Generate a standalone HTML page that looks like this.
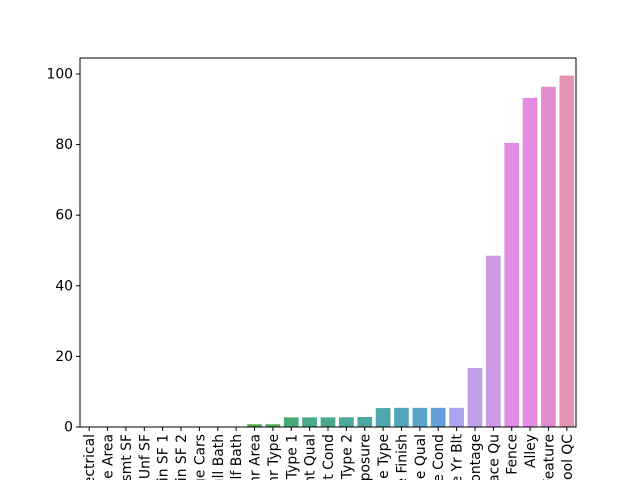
<!DOCTYPE html>
<html><head><meta charset="utf-8"><style>
html,body{margin:0;background:#fff;width:640px;height:480px;overflow:hidden;}
svg{display:block;font-family:"DejaVu Sans","Liberation Sans",sans-serif;overflow:hidden;}
</style></head><body>
<svg id="chart" width="640" height="480">
<rect x="0" y="0" width="640" height="480" fill="#fff"/>
<g id="bars"></g>
<g id="yaxis"></g>
<g id="xaxis"></g>
<rect x="80" y="58" width="496" height="369" fill="none" stroke="#000" stroke-width="1"/>
</svg>
<script>
const categories=["Electrical","Garage Area","Total Bsmt SF","Bsmt Unf SF","BsmtFin SF 1","BsmtFin SF 2","Garage Cars","Bsmt Full Bath","Bsmt Half Bath","Mas Vnr Area","Mas Vnr Type","BsmtFin Type 1","Bsmt Qual","Bsmt Cond","BsmtFin Type 2","Bsmt Exposure","Garage Type","Garage Finish","Garage Qual","Garage Cond","Garage Yr Blt","Lot Frontage","Fireplace Qu","Fence","Alley","Misc Feature","Pool QC"];
const values=[0.03,0.03,0.03,0.03,0.03,0.03,0.03,0.07,0.07,0.78,0.78,2.73,2.73,2.73,2.76,2.83,5.36,5.43,5.43,5.43,5.43,16.72,48.53,80.48,93.24,96.38,99.56];
const yTicks=[0,20,40,60,80,100];
const colors=["#e1857f","#dd8a6a","#d3904f","#c3973f","#b19c3d","#a0a13f","#8ea43f","#7aa73f","#63a944","#5ca84c","#52a95c","#47aa7a","#48aa87","#49aa91","#4aa99a","#4ba8a3","#4da7ad","#50a6b8","#56a4c6","#65a1d8","#a9a4ec","#c0a0e6","#d09be6","#df8ee4","#e38be1","#e38ccb","#e394b3"];
const NS="http://www.w3.org/2000/svg";
const X0=80,X1=576,Y0=427,YT=74;
const step=(X1-X0)/categories.length;
function xPos(i){return X0+step*(i+0.5);}
function yPos(v){return Y0-(Y0-YT)*v/100;}
const bars=document.getElementById('bars');
const xa=document.getElementById('xaxis');
const ya=document.getElementById('yaxis');
categories.forEach((c,i)=>{
  const w=step*0.8;
  const r=document.createElementNS(NS,'rect');
  r.setAttribute('x',xPos(i)-w/2);
  r.setAttribute('y',yPos(values[i]));
  r.setAttribute('width',w);
  r.setAttribute('height',Y0-yPos(values[i]));
  r.setAttribute('fill',colors[i]);
  
  
  bars.appendChild(r);
  const t=document.createElementNS(NS,'line');
  t.setAttribute('x1',xPos(i));t.setAttribute('x2',xPos(i));
  t.setAttribute('y1',Y0);t.setAttribute('y2',Y0+4);
  t.setAttribute('stroke','#000');
  
  
  xa.appendChild(t);
  const tx=document.createElementNS(NS,'text');
  tx.setAttribute('transform','translate('+(xPos(i)+5)+','+(Y0+7)+') rotate(-90)');
  tx.setAttribute('text-anchor','end');
  tx.setAttribute('font-size','13.9');
  tx.textContent=c;
  
  
  xa.appendChild(tx);
});
yTicks.forEach(v=>{
  const t=document.createElementNS(NS,'line');
  t.setAttribute('x1',X0-4);t.setAttribute('x2',X0);
  t.setAttribute('y1',yPos(v));t.setAttribute('y2',yPos(v));
  t.setAttribute('stroke','#000');
  
  
  ya.appendChild(t);
  const tx=document.createElementNS(NS,'text');
  tx.setAttribute('x',X0-7);tx.setAttribute('y',yPos(v)+4.5);
  tx.setAttribute('text-anchor','end');
  tx.setAttribute('font-size','13.9');
  tx.textContent=v;
  
  
  ya.appendChild(tx);
});
</script>
</body></html>
